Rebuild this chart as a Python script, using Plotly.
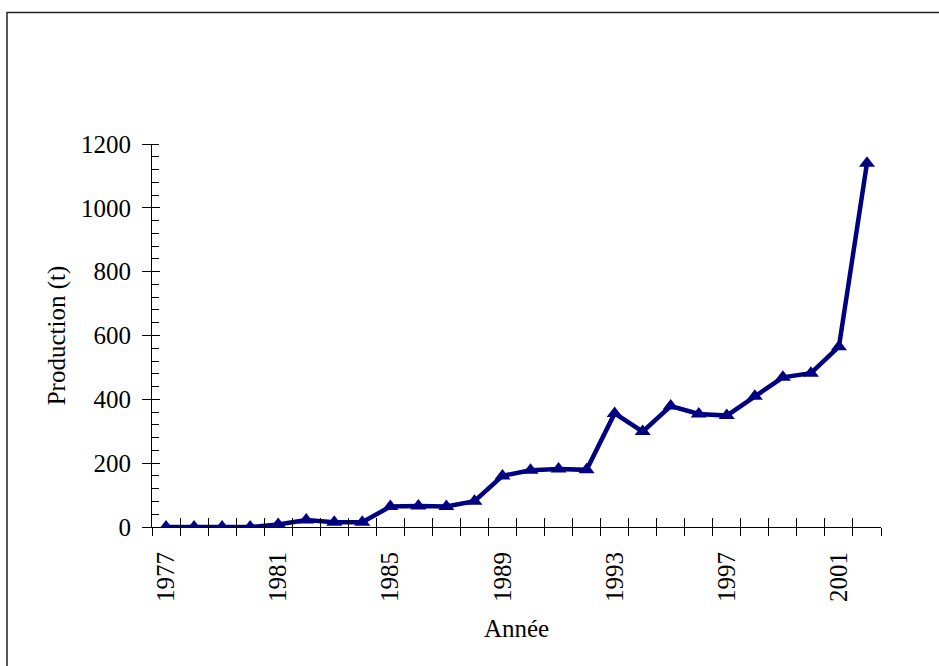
import plotly.graph_objects as go

# Production annuelle (tonnes)
annees = list(range(1977, 2003))
production = [0, 0, 0, 0, 8, 22, 15, 15, 64, 66, 64, 81, 160, 178, 182, 179,
              356, 299, 379, 354, 349, 410, 469, 482, 565, 1140]
annees_etiquetees = [1977, 1981, 1985, 1989, 1993, 1997, 2001]

W, H = 939, 666
L, R, T, B = 152, 58, 144, 139
police = dict(family="Liberation Serif, Times New Roman, serif", size=25, color="black")
bleu = "#000080"

fig = go.Figure()
fig.add_trace(go.Scatter(
    x=annees, y=production, mode="lines+markers",
    line=dict(color=bleu, width=4.5),
    marker=dict(symbol="triangle-up", size=14, color=bleu),
    showlegend=False, hoverinfo="x+y"))
# invisible traces that carry the overlay axes used for the crossing tick marks
for xa, ya in (("x2", "y"), ("x3", "y"), ("x", "y2")):
    fig.add_trace(go.Scatter(x=annees, y=production, xaxis=xa, yaxis=ya, mode="lines",
                             line=dict(width=0), opacity=0, showlegend=False, hoverinfo="skip"))

xr = [annees[0] - 0.5, annees[-1] + 0.5]
yr = [0, 1200]

fig.update_layout(
    width=W, height=H, margin=dict(l=L, r=R, t=T, b=B),
    paper_bgcolor="white", plot_bgcolor="white",
    font=police,
    xaxis=dict(range=xr, tickmode="array", tickvals=annees_etiquetees,
               ticktext=[str(a) for a in annees_etiquetees],
               tickangle=-90, ticks="", showgrid=False, zeroline=False,
               showline=True, linecolor="black", linewidth=1,
               ticklabelstandoff=14, tickfont=police,
               title=dict(text="Année", font=police, standoff=18)),
    xaxis2=dict(range=xr, overlaying="x", anchor="y", tickmode="linear",
                tick0=xr[0], dtick=1, ticks="outside", ticklen=8, tickcolor="black",
                showticklabels=False, showgrid=False, zeroline=False, showline=False),
    xaxis3=dict(range=xr, overlaying="x", anchor="y", tickmode="linear",
                tick0=xr[0], dtick=1, ticks="inside", ticklen=9, tickcolor="black",
                showticklabels=False, showgrid=False, zeroline=False, showline=False),
    yaxis=dict(range=yr, tickmode="linear", tick0=0, dtick=200,
               ticks="outside", ticklen=9, tickcolor="black",
               minor=dict(tickmode="linear", tick0=0, dtick=40, ticks="inside",
                          ticklen=7, tickcolor="black"),
               showgrid=False, zeroline=False, showline=True, linecolor="black",
               linewidth=1, ticklabelstandoff=6, tickfont=police,
               title=dict(text="Production (t)", font=police, standoff=8)),
    yaxis2=dict(range=yr, overlaying="y", anchor="x", tickmode="linear", tick0=0,
                dtick=200, ticks="inside", ticklen=8, tickcolor="black",
                showticklabels=False, showgrid=False, zeroline=False, showline=False),
)

# cadre extérieur de la figure
pw, ph = W - L - R, H - T - B
fig.add_shape(type="rect", xref="paper", yref="paper",
              x0=(7 - L) / pw, x1=(W + 20 - L) / pw,
              y0=-(H + 20 - (H - B)) / ph, y1=(H - B - 12.5) / ph,
              line=dict(color="#222222", width=1.5), fillcolor="rgba(0,0,0,0)", layer="below")

fig.write_html("out.html")
